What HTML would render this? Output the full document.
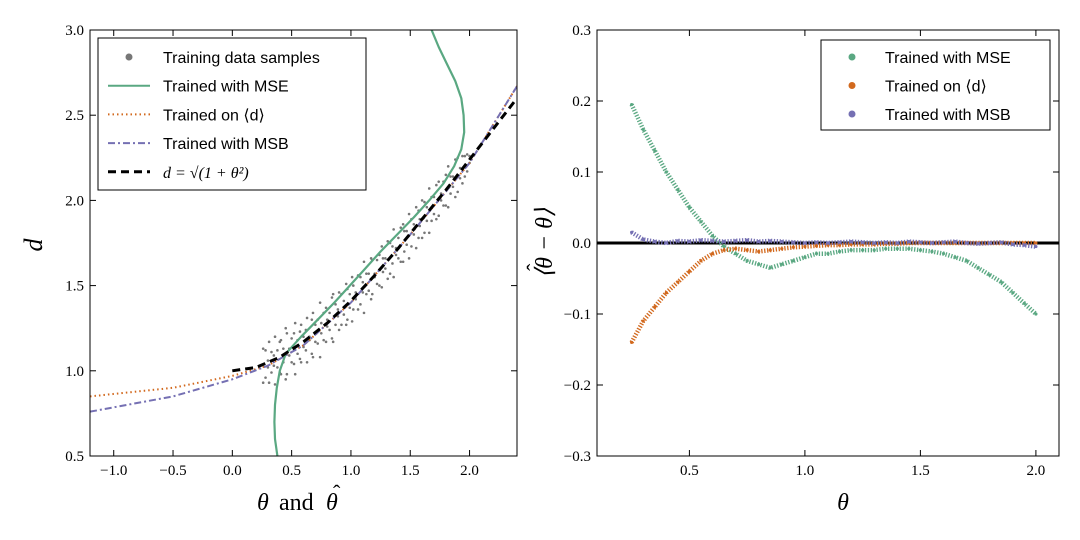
<!DOCTYPE html>
<html><head><meta charset="utf-8"><style>
html,body{margin:0;padding:0;background:#fff}
svg{display:block}
.tk{font-family:"Liberation Serif",serif;font-size:15px;fill:#000}
.lg{font-family:"Liberation Sans",sans-serif;font-size:16px;fill:#000}
</style></head><body>
<svg id="svg" width="1080" height="540" xmlns="http://www.w3.org/2000/svg">
<rect width="1080" height="540" fill="#fff"/>
<g id="L"></g>
<g id="R"></g>
</svg>
<script>
// Left chart data
const trainTheta=[0.26,0.28,0.3,0.31,0.33,0.35,0.36,0.38,0.4,0.41,0.43,0.45,0.46,0.48,0.5,0.52,0.53,0.55,0.57,0.58,0.6,0.62,0.63,0.65,0.67,0.68,0.7,0.72,0.74,0.75,0.77,0.79,0.8,0.82,0.84,0.85,0.87,0.89,0.9,0.92,0.94,0.96,0.97,0.99,1.01,1.02,1.04,1.06,1.08,1.1,1.11,1.13,1.15,1.17,1.18,1.2,1.22,1.24,1.26,1.27,1.29,1.31,1.33,1.35,1.36,1.38,1.4,1.42,1.44,1.45,1.47,1.49,1.51,1.53,1.55,1.57,1.58,1.6,1.62,1.64,1.66,1.68,1.7,1.72,1.74,1.76,1.78,1.8,1.82,1.84,1.86,1.88,1.9,1.92,1.94,1.96,1.98,2.0];
const trainD=[1.13,0.96,1.06,0.93,1.11,1.03,1.20,1.02,1.17,0.98,1.13,0.95,1.22,1.09,1.19,1.04,1.28,1.10,1.23,1.05,1.20,1.12,1.31,1.18,1.30,1.08,1.27,1.16,1.40,1.22,1.34,1.17,1.30,1.24,1.43,1.17,1.39,1.32,1.46,1.27,1.41,1.27,1.48,1.37,1.55,1.36,1.46,1.36,1.55,1.46,1.64,1.45,1.57,1.42,1.65,1.55,1.65,1.50,1.73,1.58,1.66,1.54,1.75,1.63,1.83,1.68,1.78,1.64,1.86,1.70,1.82,1.66,1.89,1.80,1.96,1.78,1.89,1.78,1.99,1.88,2.07,1.88,2.02,1.89,2.11,2.00,2.11,1.97,2.20,2.04,2.14,2.02,2.25,2.13,2.26,2.14,2.27,2.22];
const trainD2=[0.93,1.12,1.02,1.17,0.99,1.09,0.92,1.12,0.99,1.18,1.05,1.25,0.98,1.13,1.05,1.22,0.98,1.18,1.07,1.27,1.14,1.24,1.05,1.20,1.10,1.34,1.17,1.30,1.08,1.28,1.18,1.37,1.26,1.34,1.19,1.45,1.27,1.36,1.24,1.45,1.33,1.51,1.30,1.45,1.29,1.50,1.42,1.56,1.39,1.52,1.34,1.57,1.47,1.66,1.45,1.57,1.51,1.68,1.49,1.66,1.60,1.76,1.57,1.73,1.55,1.72,1.66,1.84,1.64,1.82,1.74,1.92,1.73,1.86,1.72,1.94,1.85,2.00,1.81,1.96,1.81,2.02,1.92,2.09,1.91,2.04,1.97,2.15,1.96,2.14,2.08,2.24,2.05,2.19,2.10,2.26,2.17,2.26];
const mseD=[0.5,0.6,0.7,0.8,0.9,1.0,1.1,1.2,1.3,1.4,1.5,1.6,1.7,1.8,1.9,2.0,2.1,2.2,2.3,2.4,2.5,2.6,2.7,2.8,2.9,3.0];
const mseTheta=[0.38,0.36,0.355,0.36,0.375,0.4,0.45,0.58,0.72,0.86,0.99,1.12,1.25,1.39,1.53,1.66,1.78,1.87,1.93,1.955,1.95,1.93,1.88,1.81,1.74,1.68];
const meanTheta=[-1.2,-0.5,0,0.3,0.6,1.0,1.5,2.0,2.4];
const meanD=[0.85,0.9,0.97,1.03,1.15,1.4,1.8,2.22,2.67];
const msbTheta=[-1.2,-0.5,0,0.3,0.6,1.0,1.5,2.0,2.4];
const msbD=[0.76,0.85,0.95,1.03,1.15,1.4,1.8,2.22,2.67];
const trueTheta=[0,0.2,0.4,0.6,0.8,1.0,1.2,1.4,1.6,1.8,2.0,2.2,2.4];
const trueD=[1,1.02,1.08,1.17,1.28,1.41,1.56,1.72,1.89,2.06,2.24,2.42,2.6];
const lxTicks=[-1.0,-0.5,0.0,0.5,1.0,1.5,2.0];
const lyTicks=[0.5,1.0,1.5,2.0,2.5,3.0];
// Right chart data
const rTheta=[0.25,0.3,0.35,0.4,0.45,0.5,0.55,0.6,0.65,0.7,0.75,0.8,0.85,0.9,0.95,1.0,1.05,1.1,1.15,1.2,1.25,1.3,1.35,1.4,1.45,1.5,1.55,1.6,1.65,1.7,1.75,1.8,1.85,1.9,1.95,2.0];
const rMSE=[0.195,0.16,0.13,0.10,0.075,0.05,0.03,0.01,-0.005,-0.015,-0.025,-0.03,-0.035,-0.03,-0.025,-0.02,-0.015,-0.015,-0.012,-0.01,-0.01,-0.01,-0.008,-0.008,-0.008,-0.01,-0.012,-0.015,-0.02,-0.025,-0.035,-0.045,-0.055,-0.07,-0.085,-0.1];
const rMean=[-0.14,-0.11,-0.09,-0.07,-0.055,-0.04,-0.025,-0.015,-0.01,-0.008,-0.01,-0.012,-0.01,-0.008,-0.006,-0.005,-0.004,-0.003,-0.003,-0.002,-0.002,-0.002,-0.001,-0.001,0,0,0,0,0,0,0,0,0,0,0,0];
const rMSB=[0.015,0.005,0.002,0.0,0.003,0.002,0.004,0.003,0.002,0.003,0.004,0.002,0.003,0.002,0.001,0.0,0.001,0.0,0.001,0.002,0.001,0.0,0.001,0.0,0.002,0.001,0.0,0.001,0.002,0.0,-0.001,0.0,0.001,-0.002,-0.003,-0.005];
const rxTicks=[0.5,1.0,1.5,2.0];
const ryTicks=[-0.3,-0.2,-0.1,0.0,0.1,0.2,0.3];

const NS="http://www.w3.org/2000/svg";
function mk(parent,tag,attrs,text){const e=document.createElementNS(NS,tag);for(const k in attrs)e.setAttribute(k,attrs[k]);if(text!==undefined)e.textContent=text;parent.appendChild(e);return e;}
const GREEN="#5aa882",ORANGE="#d2691e",PURPLE="#7570b3";

// Left axes
const L=document.getElementById('L');
const lx=v=>90+(v+1.2)/3.6*427, ly=v=>456-(v-0.5)/2.5*426;
function lpath(xs,ys,fx,fy){return xs.map((v,i)=>(i?'L':'M')+fx(v).toFixed(1)+','+fy(ys[i]).toFixed(1)).join('');}
const clipL=mk(L,'clipPath',{id:'cl'});mk(clipL,'rect',{x:90,y:30,width:427,height:426});
const lp=mk(L,'g',{'clip-path':'url(#cl)'});

[trainD,trainD2].forEach(arr=>{
const n=Math.min(arr.length,trainTheta.length);
for(let i=0;i<n;i++){const c=mk(lp,'circle',{cx:lx(trainTheta[i]),cy:ly(arr[i]),r:1.3,fill:'#777'});

}});
let p=mk(lp,'path',{d:lpath(meanTheta,meanD,lx,ly),fill:'none',stroke:ORANGE,'stroke-width':2,'stroke-dasharray':'1.5 3'});

p=mk(lp,'path',{d:lpath(msbTheta,msbD,lx,ly),fill:'none',stroke:PURPLE,'stroke-width':2,'stroke-dasharray':'7 3 2 3'});

p=mk(lp,'path',{d:lpath(mseTheta,mseD,lx,ly),fill:'none',stroke:GREEN,'stroke-width':2.2,'stroke-linejoin':'round'});

p=mk(lp,'path',{d:lpath(trueTheta,trueD,lx,ly),fill:'none',stroke:'#000','stroke-width':3,'stroke-dasharray':'8 5'});

mk(L,'rect',{x:90,y:30,width:427,height:426,fill:'none',stroke:'#000','stroke-width':1});
lxTicks.forEach(v=>{const x=lx(v);mk(L,'line',{x1:x,y1:456,x2:x,y2:450,stroke:'#000'});mk(L,'line',{x1:x,y1:30,x2:x,y2:36,stroke:'#000'});
const t=mk(L,'text',{x:x,y:475,'text-anchor':'middle',class:'tk'},(v<0?'\u2212':'')+Math.abs(v).toFixed(1));
});
lyTicks.forEach(v=>{const y=ly(v);mk(L,'line',{x1:90,y1:y,x2:96,y2:y,stroke:'#000'});mk(L,'line',{x1:517,y1:y,x2:511,y2:y,stroke:'#000'});
const t=mk(L,'text',{x:84,y:y+5,'text-anchor':'end',class:'tk'},v.toFixed(1));
});
const xt=mk(L,'g',{});

let t=mk(xt,'text',{x:257,y:510,class:'tk','font-style':'italic'},'θ');t.style.fontSize='24px';
t=mk(xt,'text',{x:279,y:510,class:'tk'},'and');t.style.fontSize='24px';
t=mk(xt,'text',{x:326,y:510,class:'tk','font-style':'italic'},'θ');t.style.fontSize='24px';
t=mk(xt,'text',{x:333,y:500,class:'tk'},'ˆ');t.style.fontSize='22px';
t=mk(L,'text',{x:42,y:245,'text-anchor':'middle',class:'tk',transform:'rotate(-90 42 245)','font-style':'italic'},'d');t.style.fontSize='26px';

// left legend
const lg=mk(L,'g',{});

mk(lg,'rect',{x:98,y:38,width:268,height:152,fill:'#fff',stroke:'#000'});
const le=[['dot','#777','Training data samples'],['solid',GREEN,'Trained with MSE'],['dot2',ORANGE,'Trained on ⟨d⟩'],['dashdot',PURPLE,'Trained with MSB'],['dash','#000','d = √(1 + θ²)']];
le.forEach((e,i)=>{const y=57+i*28.7;
if(e[0]==='dot')mk(lg,'circle',{cx:129,cy:y,r:3.5,fill:e[1]});
else{const da={solid:'none',dot2:'1.5 3',dashdot:'7 3 2 3',dash:'8 5'}[e[0]];
mk(lg,'line',{x1:108,y1:y,x2:150,y2:y,stroke:e[1],'stroke-width':e[0]==='dash'?3:2,'stroke-dasharray':da});}
const tt=mk(lg,'text',{x:163,y:y+6,class:'lg'},e[2]);
if(i>=4){tt.setAttribute('class','tk');tt.style.fontSize='16px';tt.setAttribute('font-style','italic');}
});

// Right axes
const R=document.getElementById('R');
const rx=v=>597+(v-0.1)/2.0*462, ry=v=>456-(v+0.3)/0.6*426;
const clipR=mk(R,'clipPath',{id:'cr'});mk(clipR,'rect',{x:597,y:30,width:462,height:426});
const rp=mk(R,'g',{'clip-path':'url(#cr)'});

mk(rp,'line',{x1:597,y1:ry(0),x2:1059,y2:ry(0),stroke:'#000','stroke-width':3});
[[rMSE,GREEN,'mse'],[rMean,ORANGE,'mean-d'],[rMSB,PURPLE,'msb']].forEach(s=>{
const g=mk(rp,'g',{});

mk(g,'path',{d:lpath(rTheta,s[0],rx,ry),fill:'none',stroke:s[1],'stroke-width':4.5,'stroke-dasharray':'1.3 1.6'});
rTheta.forEach((th,i)=>{const c=mk(g,'circle',{cx:rx(th),cy:ry(s[0][i]),r:1.6,fill:s[1]});

});});
mk(R,'rect',{x:597,y:30,width:462,height:426,fill:'none',stroke:'#000'});
rxTicks.forEach(v=>{const x=rx(v);mk(R,'line',{x1:x,y1:456,x2:x,y2:450,stroke:'#000'});mk(R,'line',{x1:x,y1:30,x2:x,y2:36,stroke:'#000'});
const t=mk(R,'text',{x:x,y:475,'text-anchor':'middle',class:'tk'},v.toFixed(1));
});
ryTicks.forEach(v=>{const y=ry(v);mk(R,'line',{x1:597,y1:y,x2:603,y2:y,stroke:'#000'});mk(R,'line',{x1:1059,y1:y,x2:1053,y2:y,stroke:'#000'});
const t=mk(R,'text',{x:591,y:y+5,'text-anchor':'end',class:'tk'},(v<0?'\u2212':'')+Math.abs(v).toFixed(1));
});
t=mk(R,'text',{x:843,y:510,'text-anchor':'middle',class:'tk','font-style':'italic'},'θ');t.style.fontSize='24px';

const yt=mk(R,'g',{transform:'translate(552,243) rotate(-90)'});

t=mk(yt,'text',{x:0,y:0,'text-anchor':'middle',class:'tk','font-style':'italic'},'⟨θ − θ⟩');t.style.fontSize='24px';
t=mk(yt,'text',{x:-28,y:-10,class:'tk'},'ˆ');t.style.fontSize='22px';
const rg=mk(R,'g',{});

mk(rg,'rect',{x:821,y:40,width:229,height:90,fill:'#fff',stroke:'#000'});
[[GREEN,'Trained with MSE'],[ORANGE,'Trained on ⟨d⟩'],[PURPLE,'Trained with MSB']].forEach((e,i)=>{const y=57+i*28.5;
mk(rg,'circle',{cx:852,cy:y,r:3.5,fill:e[0]});
const tt=mk(rg,'text',{x:885,y:y+6,class:'lg'},e[1]);
});
</script>
</body></html>
